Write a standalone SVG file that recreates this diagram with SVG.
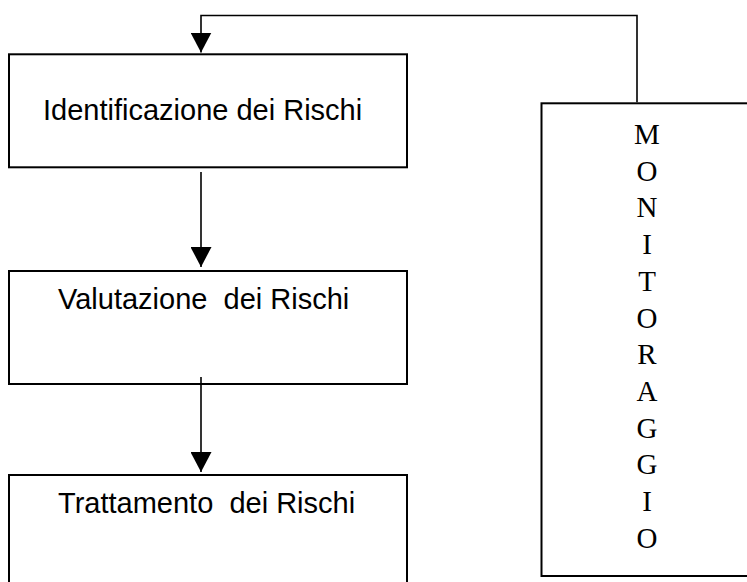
<svg xmlns="http://www.w3.org/2000/svg" width="747" height="582" viewBox="0 0 747 582">
  <style>
    .box { fill: #ffffff; stroke: #000000; stroke-width: 2; }
    .lbl { font-family: "Liberation Sans", Arial, sans-serif; font-size: 29px; fill: #000000; }
    .vert { font-family: "Liberation Serif", "Times New Roman", serif; font-size: 29px; fill: #000000; text-anchor: middle; }
    .conn { fill: none; stroke: #000000; stroke-width: 1.6; }
  </style>
  <defs>
    <marker id="arrow" viewBox="0 0 20 21" refX="20" refY="10.5" markerWidth="20" markerHeight="21" markerUnits="userSpaceOnUse" orient="auto">
      <path d="M0,0 L20,10.5 L0,21 z" fill="#000000"/>
    </marker>
  </defs>
  <rect width="747" height="582" fill="#ffffff"/>
  <g id="identificazione">
    <rect class="box" x="9" y="54.3" width="398" height="113"/>
    <text class="lbl" x="43" y="120">Identificazione dei Rischi</text>
  </g>
  <g id="valutazione">
    <rect class="box" x="9" y="271" width="398" height="113"/>
    <text class="lbl" x="58" y="309" xml:space="preserve">Valutazione  dei Rischi</text>
  </g>
  <g id="trattamento">
    <rect class="box" x="9" y="475" width="398" height="130"/>
    <text class="lbl" x="58" y="513" xml:space="preserve">Trattamento  dei Rischi</text>
  </g>
  <g id="monitoraggio">
    <rect class="box" x="541.5" y="103.3" width="230" height="472.7"/>
    <text class="vert" x="647" y="144">M</text>
    <text class="vert" x="647" y="180.7">O</text>
    <text class="vert" x="647" y="217.4">N</text>
    <text class="vert" x="647" y="254.1">I</text>
    <text class="vert" x="647" y="290.8">T</text>
    <text class="vert" x="647" y="327.5">O</text>
    <text class="vert" x="647" y="364.2">R</text>
    <text class="vert" x="647" y="400.9">A</text>
    <text class="vert" x="647" y="437.6">G</text>
    <text class="vert" x="647" y="474.3">G</text>
    <text class="vert" x="647" y="511">I</text>
    <text class="vert" x="647" y="547.7">O</text>
  </g>
  <g id="connectors">
    <path class="conn" d="M201,172 V267" marker-end="url(#arrow)"/>
    <path class="conn" d="M201,377 V472" marker-end="url(#arrow)"/>
    <path class="conn" d="M637,102.3 V15.5 H201 V52.5" marker-end="url(#arrow)"/>
  </g>
</svg>
